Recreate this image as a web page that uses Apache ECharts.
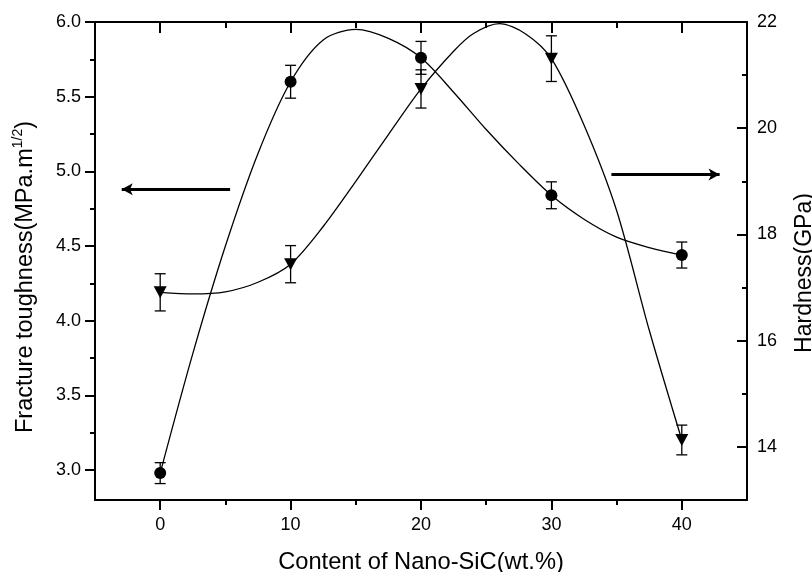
<!DOCTYPE html>
<html>
<head>
<meta charset="utf-8">
<script src="https://cdn.jsdelivr.net/npm/echarts@6/dist/echarts.min.js"></script>
<style>
html,body{margin:0;padding:0;background:#fff;overflow:hidden;}
#chart{width:812px;height:572px;}
</style>
</head>
<body>
<div id="chart"></div>
<script>
// ---- data ----
const contentSiC = [0, 10, 20, 30, 40];
const toughness = [2.98, 5.60, 5.76, 4.84, 4.44];
const toughnessErr = [0.07, 0.11, 0.11, 0.09, 0.087];
const hardness = [16.91, 17.44, 20.74, 21.31, 14.13];
const hardnessErr = [0.35, 0.35, 0.36, 0.43, 0.28];

// fitted curves
const toughnessCurveX = [0, 2.5, 5, 7.5, 10, 12.5, 15, 17.5, 20, 22.5, 25, 27.5, 30, 32.5, 35, 37.5, 40];
const toughnessCurve = [2.98, 3.78, 4.50, 5.12, 5.60, 5.88, 5.95, 5.89, 5.76, 5.53, 5.28, 5.05, 4.84, 4.68, 4.56, 4.49, 4.44];
const hardnessCurveX = [0, 2.5, 5, 7.5, 10, 12.5, 15, 17.5, 20, 22.5, 24, 26, 28, 30, 32.5, 35, 37.5, 40];
const hardnessCurve = [16.91, 16.88, 16.92, 17.10, 17.44, 18.15, 19.00, 19.88, 20.74, 21.45, 21.78, 21.97, 21.78, 21.31, 20.06, 18.45, 16.20, 14.13];

// tick values
const xMajorTicks = [0, 10, 20, 30, 40];
const xMinorTicks = [5, 15, 25, 35];
const leftMajorTicks = [3.0, 3.5, 4.0, 4.5, 5.0, 5.5, 6.0];
const leftMinorTicks = [3.25, 3.75, 4.25, 4.75, 5.25, 5.75];
const rightMajorTicks = [14, 16, 18, 20, 22];
const rightMinorTicks = [15, 17, 19, 21];

// annotation arrows (data coordinates)
const leftArrow = [[5.36, 4.88], [-2.95, 4.88]];
const rightArrow = [[34.6, 19.13], [42.9, 19.13]];

const FONT = "'Liberation Sans', Arial, Helvetica, sans-serif";
const chart = echarts.init(document.getElementById('chart'));

const axisLineStyle = {show: true, onZero: false, lineStyle: {color: '#000', width: 2}};
const noLine = {show: false, onZero: false};
function mkX(pos, ticks, len, inside, showLine, extra) {
  return Object.assign({
    type: 'value', position: pos, min: -5, max: 45,
    axisLine: showLine ? axisLineStyle : noLine,
    axisTick: {show: true, inside: inside, length: len, customValues: ticks, lineStyle: {color: '#000', width: 2}},
    axisLabel: {show: false},
    splitLine: {show: false}
  }, extra || {});
}
function mkY(pos, min, max, ticks, len, inside, showLine, extra) {
  return Object.assign({
    type: 'value', position: pos, min: min, max: max,
    axisLine: showLine ? axisLineStyle : noLine,
    axisTick: {show: true, inside: inside, length: len, customValues: ticks, lineStyle: {color: '#000', width: 2}},
    axisLabel: {show: false},
    splitLine: {show: false}
  }, extra || {});
}

function errorBarSeries(xs, ys, es, yIdx) {
  return {
    type: 'custom',
    xAxisIndex: 0, yAxisIndex: yIdx,
    z: 3,
    silent: true,
    data: xs.map((x, i) => [x, ys[i], es[i]]),
    renderItem: function (params, api) {
      const x = api.value(0), y = api.value(1), e = api.value(2);
      const top = api.coord([x, y + e]);
      const bot = api.coord([x, y - e]);
      const hw = 5.5;
      const st = {stroke: '#000', lineWidth: 1.3};
      return {
        type: 'group',
        children: [
          {type: 'line', shape: {x1: top[0], y1: top[1], x2: bot[0], y2: bot[1]}, style: st},
          {type: 'line', shape: {x1: top[0] - hw, y1: top[1], x2: top[0] + hw, y2: top[1]}, style: st},
          {type: 'line', shape: {x1: bot[0] - hw, y1: bot[1], x2: bot[0] + hw, y2: bot[1]}, style: st}
        ]
      };
    }
  };
}

const arrowMark = (pts) => ({
  silent: true,
  symbol: ['none', 'arrow'],
  symbolSize: [9, 11],
  label: {show: false},
  lineStyle: {color: '#000', width: 3, type: 'solid'},
  emphasis: {disabled: true},
  data: [[{coord: pts[0]}, {coord: pts[1]}]]
});

const option = {
  backgroundColor: '#fff',
  animation: false,
  textStyle: {fontFamily: FONT},
  grid: {left: 95, right: 65, top: 22, bottom: 72, containLabel: false, outerBoundsMode: 'none'},
  xAxis: [
    mkX('bottom', xMajorTicks, 10, false, true, {
      axisLabel: {show: true, customValues: xMajorTicks, color: '#000', fontSize: 18, fontFamily: FONT, margin: 16},
      name: 'Content of Nano-SiC(wt.%)', nameLocation: 'middle', nameGap: 50,
      nameTextStyle: {color: '#000', fontSize: 23.7, fontFamily: FONT}
    }),
    mkX('bottom', xMinorTicks, 5, false, false),
    mkX('top', xMajorTicks, 11, true, true),
    mkX('top', xMinorTicks, 6, true, false)
  ],
  yAxis: [
    mkY('left', 2.8, 6.0, leftMajorTicks, 10, false, true, {
      axisLabel: {show: true, customValues: leftMajorTicks, color: '#000', fontSize: 18, fontFamily: FONT, margin: 14,
        formatter: v => Number(v).toFixed(1)},
      name: '{a|Fracture toughness(MPa.m}{s|1/2}{a|)}', nameLocation: 'middle', nameGap: 57, nameRotate: 90,
      nameTextStyle: {color: '#000', fontFamily: FONT, padding: [0, 32, 0, 0],
        rich: {a: {fontSize: 23.5, fontFamily: FONT, color: '#000', verticalAlign: 'bottom', lineHeight: 27},
               s: {fontSize: 14, fontFamily: FONT, color: '#000', verticalAlign: 'top', lineHeight: 27, padding: [0, 0, 12, 0]}}}
    }),
    mkY('left', 2.8, 6.0, leftMinorTicks, 5, false, false),
    mkY('right', 13, 22, rightMajorTicks, 10, true, true, {
      axisLabel: {show: true, customValues: rightMajorTicks, color: '#000', fontSize: 18, fontFamily: FONT, margin: 10},
      name: 'Hardness(GPa)', nameLocation: 'middle', nameGap: 46, nameRotate: 90,
      nameTextStyle: {color: '#000', fontSize: 23, fontFamily: FONT, padding: [0, 24, 0, 0]}
    }),
    mkY('right', 13, 22, rightMinorTicks, 5, true, false)
  ],
  series: [
    {
      name: 'toughness fit', type: 'line', xAxisIndex: 0, yAxisIndex: 0, z: 2,
      data: toughnessCurveX.map((x, i) => [x, toughnessCurve[i]]),
      smooth: 0.3, showSymbol: false, silent: true,
      lineStyle: {color: '#000', width: 1.3},
      markLine: arrowMark(leftArrow)
    },
    {
      name: 'hardness fit', type: 'line', xAxisIndex: 0, yAxisIndex: 2, z: 2,
      data: hardnessCurveX.map((x, i) => [x, hardnessCurve[i]]),
      smooth: 0.3, showSymbol: false, silent: true,
      lineStyle: {color: '#000', width: 1.3},
      markLine: arrowMark(rightArrow)
    },
    errorBarSeries(contentSiC, toughness, toughnessErr, 0),
    errorBarSeries(contentSiC, hardness, hardnessErr, 2),
    {
      name: 'Fracture toughness', type: 'scatter', xAxisIndex: 0, yAxisIndex: 0, z: 5,
      data: contentSiC.map((x, i) => [x, toughness[i]]),
      symbol: 'circle', symbolSize: 12,
      itemStyle: {color: '#000', opacity: 1}
    },
    {
      name: 'Hardness', type: 'scatter', xAxisIndex: 0, yAxisIndex: 2, z: 5,
      data: contentSiC.map((x, i) => [x, hardness[i]]),
      symbol: 'triangle', symbolSize: [13, 12], symbolRotate: 180,
      itemStyle: {color: '#000', opacity: 1}
    }
  ]
};
chart.setOption(option);
</script>
</body>
</html>
